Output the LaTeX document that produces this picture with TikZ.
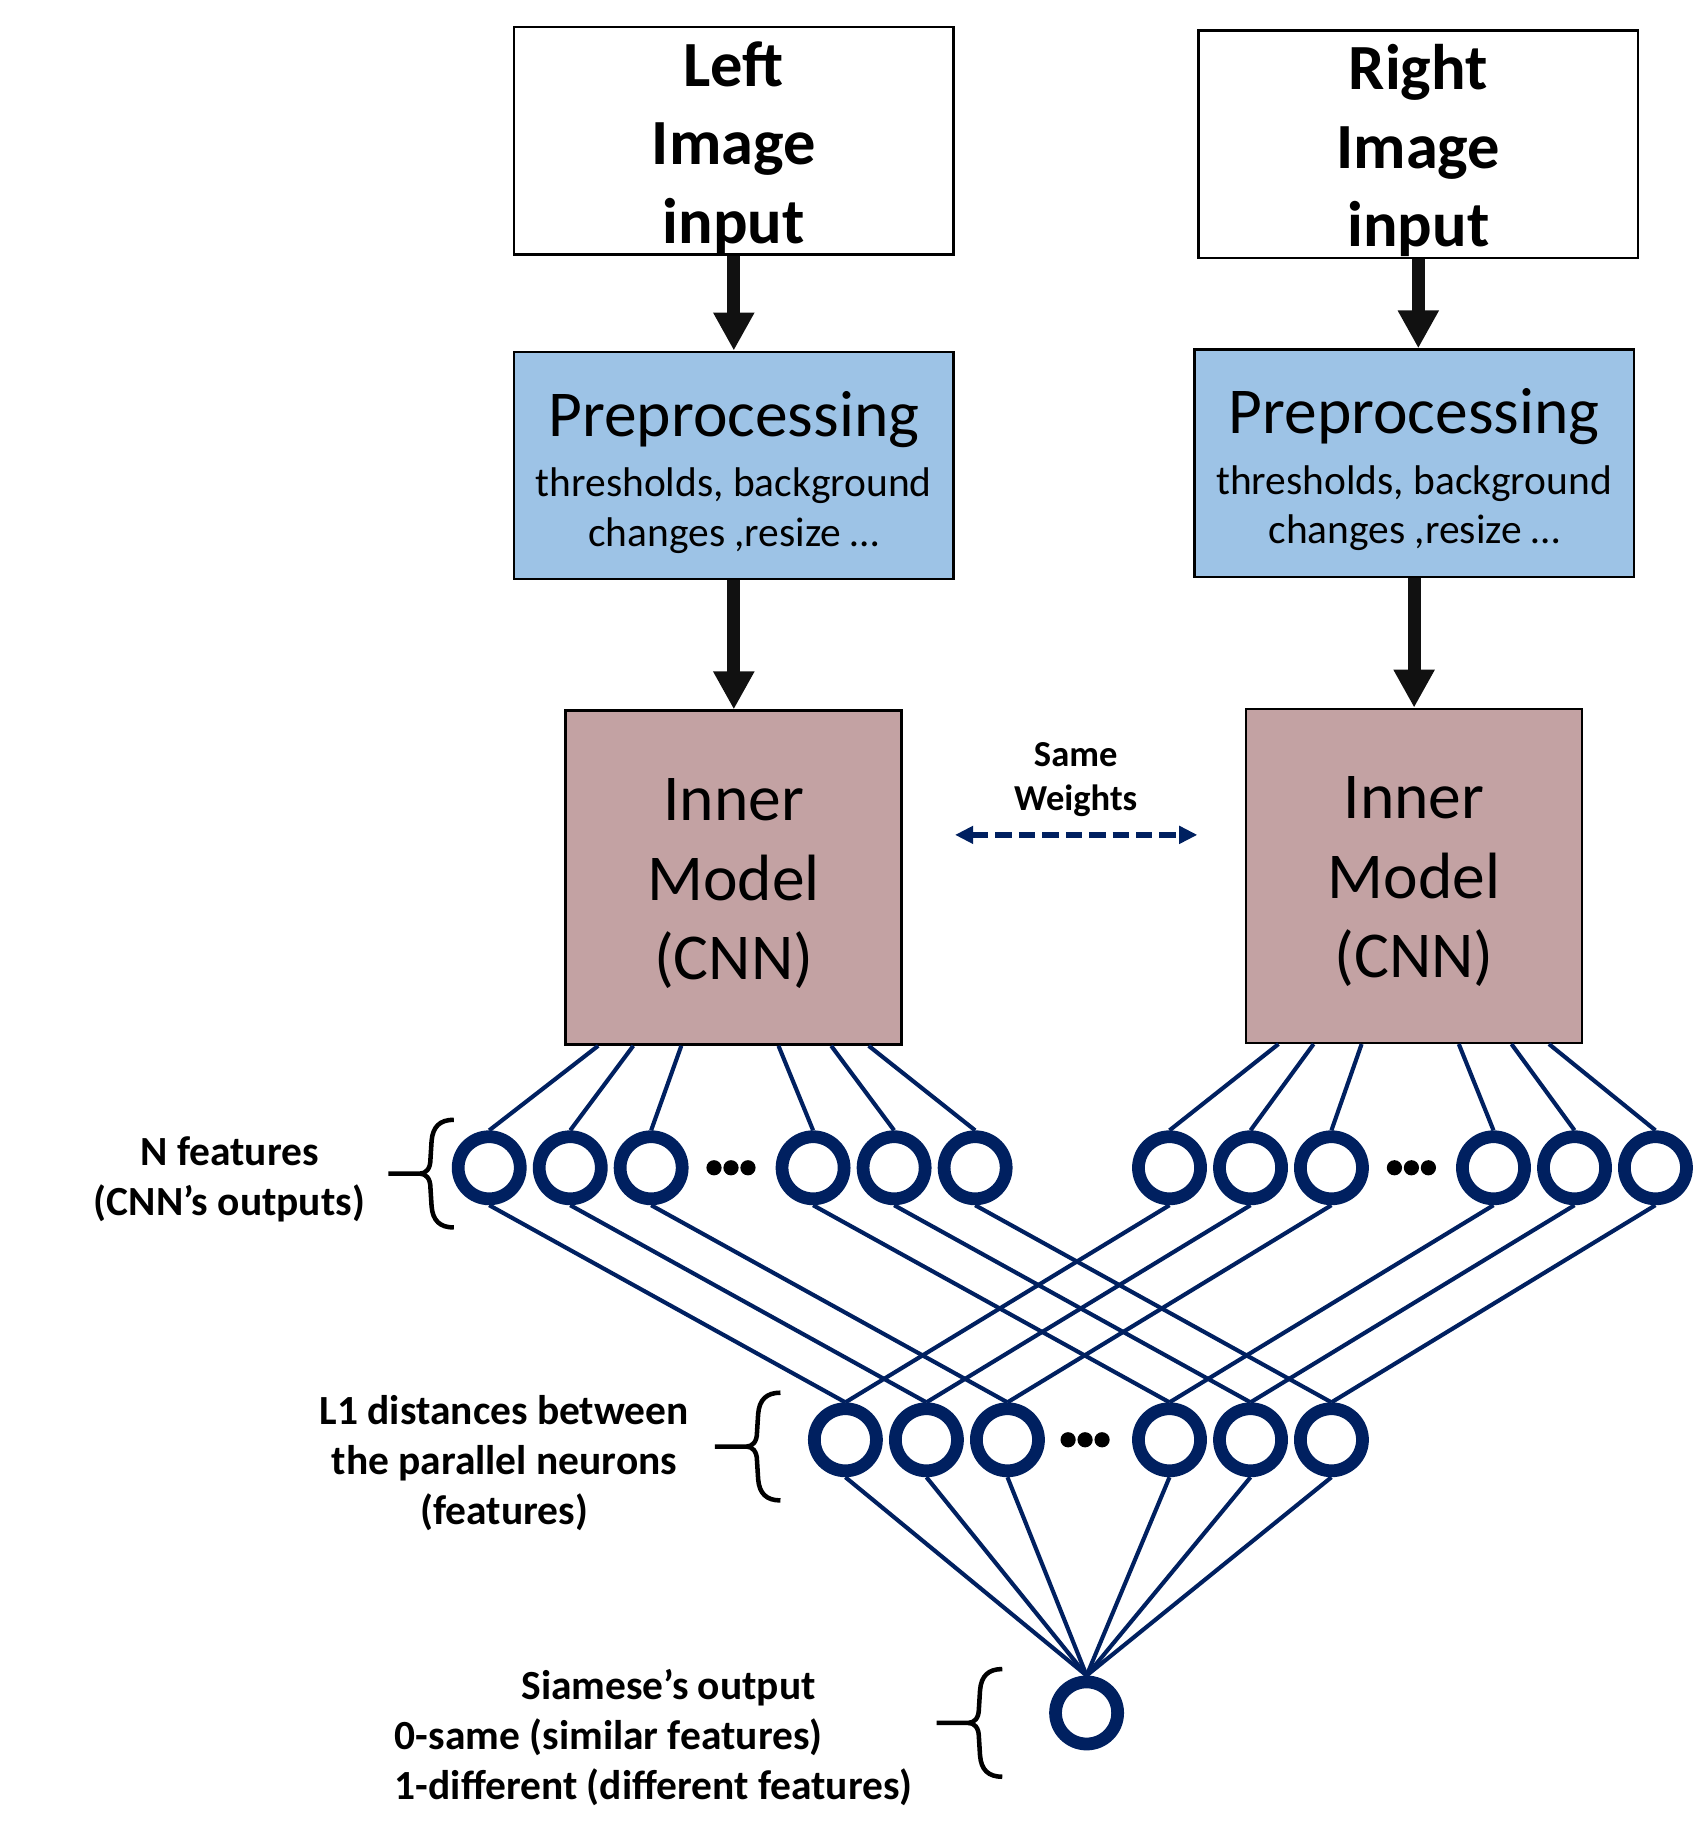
\documentclass[tikz,border=0pt]{standalone}
\usepackage{fontspec}
\setmainfont{Carlito}
\usepackage{tikz}
\usetikzlibrary{arrows.meta, positioning, calc}
\definecolor{mynavy}{RGB}{0, 32, 96}
\definecolor{myblue}{RGB}{157, 195, 230}
\definecolor{myrose}{RGB}{195, 162, 163}
\definecolor{myblack}{RGB}{17, 17, 17}

\begin{document}
\begin{tikzpicture}[x=0.01cm, y=-0.01cm,
    inbox/.style={rectangle, draw=black, line width=0.6pt, fill=white, inner sep=0pt, minimum width=3.75cm, minimum height=1.94cm, align=center, font=\fontsize{15.65}{19.06}\selectfont\bfseries},
    prebox/.style={rectangle, draw=black, line width=0.6pt, fill=myblue, inner sep=0pt, minimum width=3.75cm, minimum height=1.94cm, align=center, font=\fontsize{10.07}{12.1}\selectfont},
    cnnbox/.style={rectangle, draw=black, line width=0.6pt, fill=myrose, inner sep=0pt, minimum width=2.87cm, minimum height=2.85cm, align=center, font=\fontsize{15.9}{19.35}\selectfont},
    bigarrow/.style={draw=myblack, line width=3.1pt, -{Triangle[length=0.325cm, width=0.33cm]}},
    weights/.style={draw=mynavy, line width=1.6pt, dash pattern=on 0.14cm off 0.06cm, {Triangle[length=0.155cm, width=0.145cm]}-{Triangle[length=0.155cm, width=0.145cm]}},
    neuron/.style={circle, draw=mynavy, line width=3.1pt, fill=white, minimum size=0.53cm, inner sep=0pt},
    wire/.style={draw=mynavy, line width=1pt},
    lbl/.style={align=center, font=\fontsize{10.07}{12.2}\selectfont\bfseries},
    fbrace/.pic={
        \draw[line width=1.1pt] (0,0) -- (27,0) .. controls (32,0) and (36,-4) .. (36,-12) -- (37,-28) .. controls (38,-40) and (44,-46) .. (56,-46);
        \draw[line width=1.1pt] (27,0) .. controls (32,0) and (36,4) .. (36,12) -- (37,28) .. controls (38,40) and (44,46) .. (56,46);
    },
]
    \useasboundingbox (0,0) rectangle (1446,1568);

    % inputs
    \node[inbox] (inL) at (626.7,120.1) {\rule{0pt}{14.1pt}Left\\Image\\input};
    \node[inbox] (inR) at (1211.3,123.2) {\rule{0pt}{14.1pt}Right\\Image\\input};

    % preprocessing
    \node[prebox] (preL) at (626.7,397.5) {{\fontsize{15.9}{12.1}\selectfont\rule{0pt}{14.2pt}Preprocessing}\\[2.5pt]thresholds, background\\changes ,resize …};
    \node[prebox] (preR) at (1207.7,395.6) {{\fontsize{15.9}{12.1}\selectfont\rule{0pt}{14.2pt}Preprocessing}\\[2.5pt]thresholds, background\\changes ,resize …};

    % inner model
    \node[cnnbox] (cnnL) at (626.5,749.5) {\rule{0pt}{13.1pt}Inner\\Model\\(CNN)};
    \node[cnnbox] (cnnR) at (1207.5,748) {\rule{0pt}{13.1pt}Inner\\Model\\(CNN)};

    \draw[bigarrow] (inL) -- (inL |- preL.north);
    \draw[bigarrow] (preL) -- (preL |- cnnL.north);
    \draw[bigarrow] (inR) -- (inR |- preR.north);
    \draw[bigarrow] (preR) -- (preR |- cnnR.north);

    % same weights
    \node[font=\fontsize{8.88}{10.67}\selectfont\bfseries, align=center] (same) at (918.7,666) {Same\\Weights};
    \coordinate (wL) at (815.6,713);
    \coordinate (wR) at (1022.6,713);
    \draw[weights] (wL) -- (wR);

    % N features
    \foreach \x [count=\i] in {417.8,487,556.1,694.4,763.6,832.8}
        \node[neuron] (a\i) at (\x,997.3) {};
    \foreach \x [count=\i] in {998.8,1068,1137.1,1275.5,1344.7,1413.8}
        \node[neuron] (b\i) at (\x,997.3) {};

    % L1 distances
    \foreach \x [count=\i] in {722,791.2,860.4,998.8,1068,1137.1}
        \node[neuron] (c\i) at (\x,1229.6) {};

    % output
    \node[neuron] (out) at (928,1462.9) {};

    \foreach \d [count=\i] in {29,59,100,183,228,260} {
        \draw[wire] ($(cnnL.south west)+(\d,0)$) -- (a\i.north);
        \draw[wire] ($(cnnR.south west)+(\d,0)$) -- (b\i.north);
        \draw[wire] (a\i.south) -- (c\i.north);
        \draw[wire] (b\i.south) -- (c\i.north);
        \draw[wire] (c\i.south) -- (out.north);
    }

    % dots
    \foreach \x/\y in {624.3/997.3, 1205.4/997.3, 926.7/1229.6}
        \foreach \dx in {-14.5,0,14.5}
            \fill (\x+\dx,\y) circle (6.5);

    % braces and labels
    \pic at (331.6,1002.3) {fbrace};
    \pic at (610.5,1235.4) {fbrace};
    \pic at (800,1471.4) {fbrace};
    \node[lbl] (nfeat) at (196,1006.9) {N features\\(CNN’s outputs)};
    \node[lbl] (dist) at (430.7,1249.6) {L1 distances between\\the parallel neurons\\(features)};
    \node[lbl, align=left, anchor=west, inner sep=0pt] (siam) at (336.6,1484) {\hspace*{1.08cm}Siamese’s output\\0-same (similar features)\\1-different (different features)};
\end{tikzpicture}
\end{document}
